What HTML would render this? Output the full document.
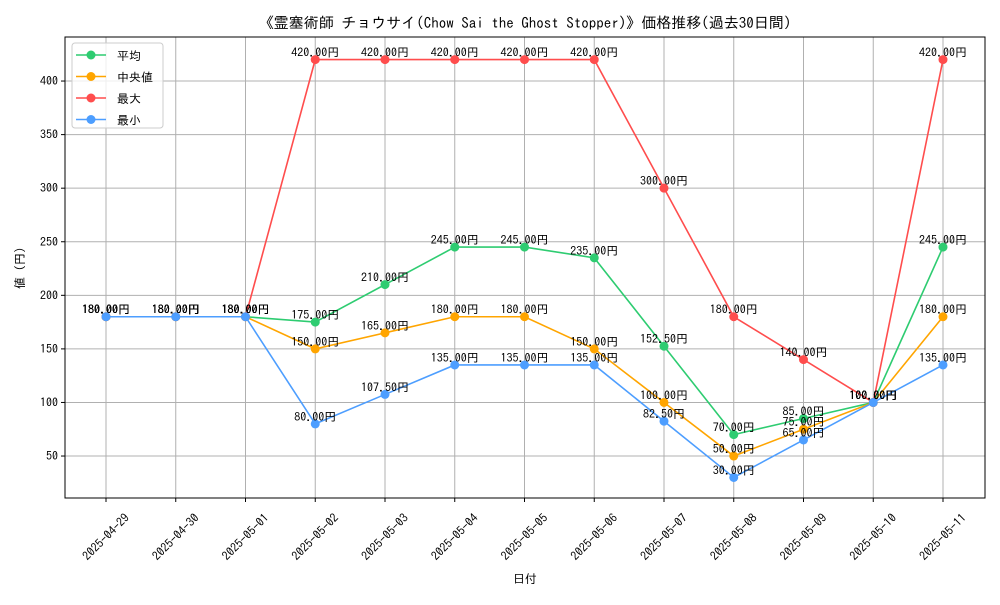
<!DOCTYPE html>
<html><head><meta charset="utf-8"><style>
body{margin:0;background:#fff}
svg text{font-family:"IPAGothic","Liberation Sans","Noto Sans CJK JP",sans-serif}
</style></head><body>
<svg id="chart" width="1000" height="600" xmlns="http://www.w3.org/2000/svg">
<rect width="1000" height="600" fill="#fff"/>
<text x="525" y="28" text-anchor="middle" font-size="15">《霊塞術師 チョウサイ(Chow Sai the Ghost Stopper)》価格推移(過去30日間)</text>
<g id="grid"></g>
<g id="series"></g>
<g id="labels"></g>
<rect x="65" y="37" width="920" height="461" fill="none" stroke="#000" stroke-width="1"/>
<g id="ticks"></g>
<text x="525" y="583" text-anchor="middle" font-size="12">日付</text>
<text x="24" y="268" text-anchor="middle" font-size="12" transform="rotate(-90 24 268)">値 (円)</text>
<g>
<rect x="72" y="43" width="91" height="85" rx="3" fill="#fff" fill-opacity="0.8" stroke="#ccc"/>
<g id="legend-items"></g>
</g>
</svg>
<script>
const dates=["2025-04-29","2025-04-30","2025-05-01","2025-05-02","2025-05-03","2025-05-04","2025-05-05","2025-05-06","2025-05-07","2025-05-08","2025-05-09","2025-05-10","2025-05-11"];
const avgValues=[180,180,180,175,210,245,245,235,152.5,70,85,100,245];
const medianValues=[180,180,180,150,165,180,180,150,100,50,75,100,180];
const maxValues=[180,180,180,420,420,420,420,420,300,180,140,100,420];
const minValues=[180,180,180,80,107.5,135,135,135,82.5,30,65,100,135];
const yTicks=[50,100,150,200,250,300,350,400];
const seriesNames=["平均","中央値","最大","最小"];
const NS="http://www.w3.org/2000/svg";
function xs(i){return 106+i*69.75;}
function ys(v){return 509.6-v*1.0714;}
function mk(tag,attrs,parent){const e=document.createElementNS(NS,tag);for(const k in attrs)e.setAttribute(k,attrs[k]);parent.appendChild(e);return e;}
const grid=document.getElementById('grid'),ticks=document.getElementById('ticks');
dates.forEach((d,i)=>{
  const l=mk('line',{x1:xs(i),x2:xs(i),y1:37,y2:498,stroke:'#b0b0b0','stroke-width':1},grid);
  
  
  mk('line',{x1:xs(i),x2:xs(i),y1:498,y2:502,stroke:'#000'},ticks);
  const t=mk('text',{x:xs(i),y:537,'text-anchor':'middle','dominant-baseline':'central','font-size':12,transform:`rotate(-45 ${xs(i)} 537)`},ticks);
  t.textContent=d;
  
  
});
yTicks.forEach(v=>{
  const l=mk('line',{x1:65,x2:985,y1:ys(v),y2:ys(v),stroke:'#b0b0b0','stroke-width':1},grid);
  
  
  mk('line',{x1:61,x2:65,y1:ys(v),y2:ys(v),stroke:'#000'},ticks);
  const t=mk('text',{x:58,y:ys(v)+4,'text-anchor':'end','font-size':12},ticks);
  t.textContent=v;
  
  
});
const allSeries=[avgValues,medianValues,maxValues,minValues];
const colors=["#2ecc71","#ffa500","#ff4d4d","#4d9eff"];
const keys=["avg","median","max","min"];
const sg=document.getElementById('series'),lg=document.getElementById('labels'),leg=document.getElementById('legend-items');
allSeries.forEach((vals,s)=>{
  const g=mk('g',{},sg);
  
  
  const p=mk('polyline',{points:vals.map((v,i)=>xs(i)+','+ys(v)).join(' '),fill:'none',stroke:colors[s],'stroke-width':1.6},g);
  
  
  vals.forEach((v,i)=>{
    const c=mk('circle',{cx:xs(i),cy:ys(v),r:4.5,fill:colors[s]},g);
    
    
    const t=mk('text',{x:xs(i),y:ys(v)-3,'text-anchor':'middle','font-size':12},lg);
    t.textContent=v.toFixed(2)+'円';
    
    
  });
  const y=55+s*21.5;
  const li=mk('g',{},leg);
  
  
  mk('line',{x1:76,x2:106,y1:y,y2:y,stroke:colors[s],'stroke-width':1.6},li);
  mk('circle',{cx:91,cy:y,r:4.5,fill:colors[s]},li);
  const t=mk('text',{x:117,y:y+5,'font-size':12},li);
  t.textContent=seriesNames[s];
});
</script>
</body></html>
